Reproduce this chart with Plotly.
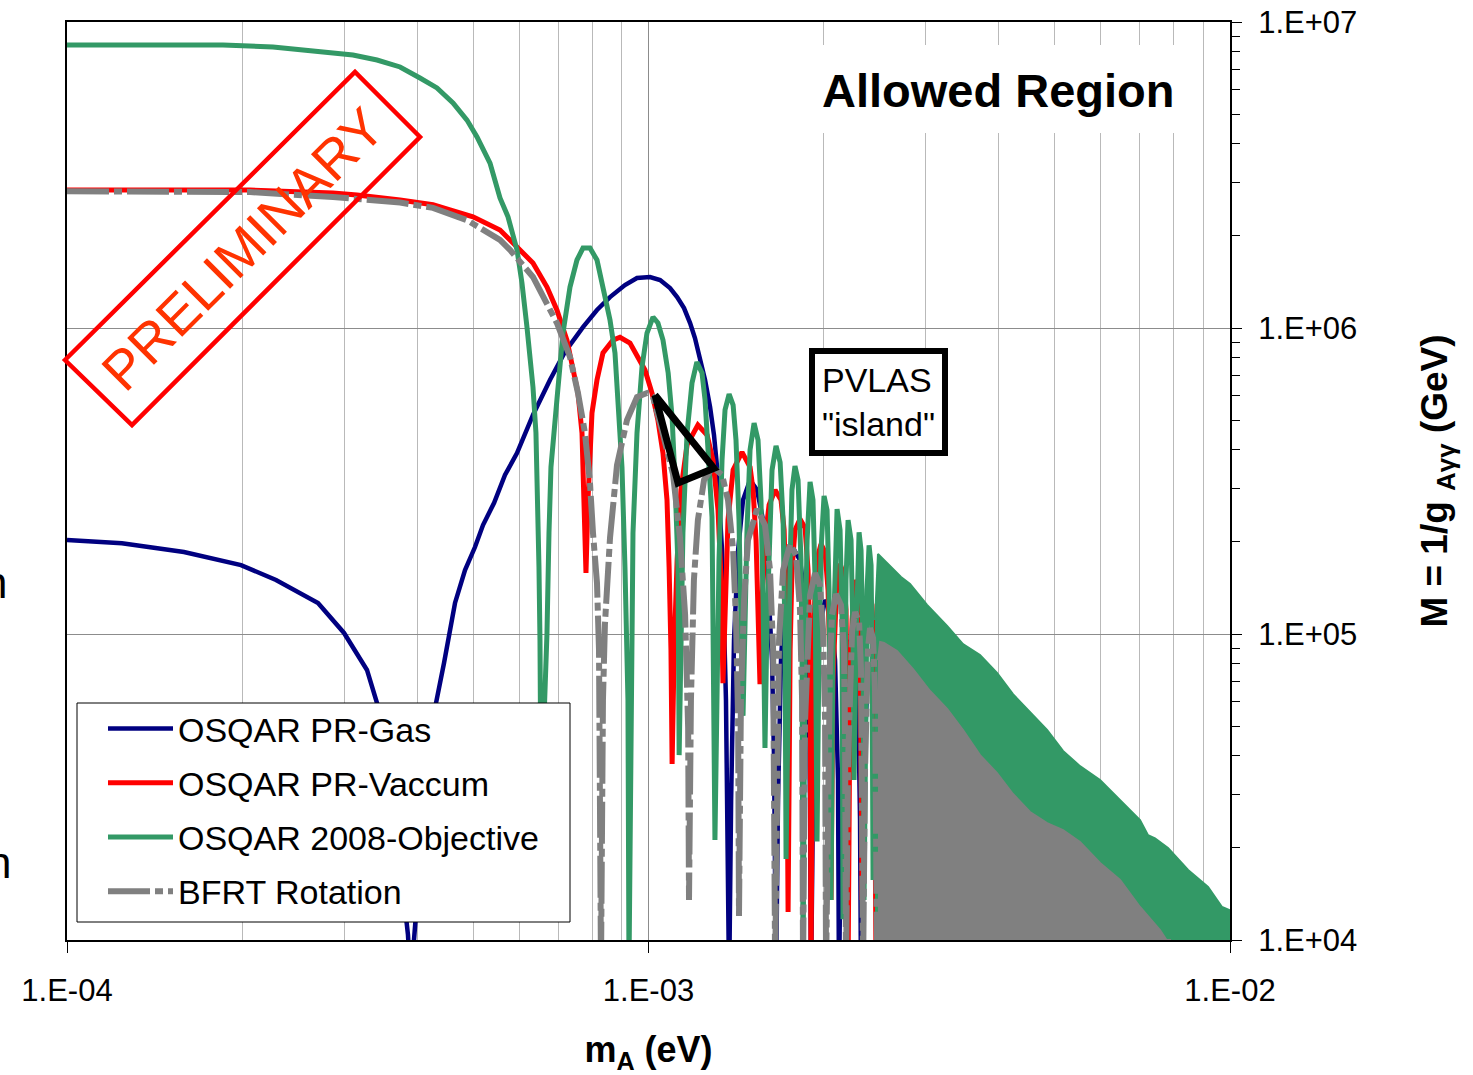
import plotly.graph_objects as go

# ---------------- values ----------------
x_tick_vals = [1e-4, 1e-3, 1e-2]
x_tick_text = ["1.E-04", "1.E-03", "1.E-02"]
y_tick_vals = [1e4, 1e5, 1e6, 1e7]
y_tick_text = ["1.E+04", "1.E+05", "1.E+06", "1.E+07"]

series_names = ["OSQAR PR-Gas", "OSQAR PR-Vaccum", "OSQAR 2008-Objective", "BFRT Rotation"]

# OSQAR PR-Gas (m_A in eV, M in GeV)
gas_mass = [
    1.00e-4, 1.243e-4, 1.589e-4, 1.992e-4, 2.288e-4, 2.702e-4, 2.995e-4, 3.280e-4, 3.413e-4, 3.523e-4,
    3.622e-4, 3.709e-4, 3.783e-4, 3.858e-4, 3.904e-4,
    3.951e-4, 4.014e-4, 4.127e-4, 4.226e-4, 4.311e-4, 4.450e-4, 4.648e-4, 4.836e-4, 5.031e-4, 5.193e-4,
    5.424e-4, 5.665e-4, 5.941e-4, 6.329e-4, 6.769e-4, 7.183e-4, 7.715e-4, 8.155e-4, 8.586e-4, 9.11e-4,
    9.555e-4, 1.006e-3, 1.047e-3, 1.089e-3, 1.120e-3, 1.151e-3, 1.179e-3, 1.202e-3, 1.226e-3, 1.251e-3,
    1.276e-3, 1.296e-3, 1.312e-3, 1.327e-3, 1.338e-3, 1.348e-3, 1.359e-3, 1.365e-3, 1.376e-3,
    1.387e-3, 1.403e-3, 1.426e-3, 1.454e-3, 1.495e-3, 1.537e-3, 1.574e-3, 1.605e-3, 1.631e-3, 1.644e-3, 1.657e-3,
    1.670e-3, 1.690e-3, 1.717e-3, 1.772e-3, 1.822e-3, 1.859e-3, 1.881e-3, 1.896e-3, 1.903e-3,
    1.918e-3, 1.941e-3, 1.965e-3, 2.012e-3, 2.060e-3, 2.093e-3, 2.118e-3, 2.126e-3,
    2.143e-3, 2.169e-3, 2.186e-3, 2.221e-3, 2.266e-3, 2.293e-3, 2.311e-3, 2.320e-3,
    2.339e-3, 2.357e-3, 2.376e-3, 2.404e-3, 2.442e-3, 2.472e-3, 2.491e-3, 2.502e-3,
]
gas_M = [
    2.028e5, 1.98e5, 1.853e5, 1.68e5, 1.501e5, 1.263e5, 1.008e5, 7.63e4, 5.95e4, 4.34e4,
    3.092e4, 2.122e4, 1.457e4, 1.04e4, 7.0e3,
    1.0e4, 1.457e4, 2.868e4, 4.504e4, 5.95e4, 8.04e4, 1.263e5, 1.618e5, 1.924e5, 2.27e5,
    2.68e5, 3.31e5, 3.90e5, 5.20e5, 6.76e5, 8.35e5, 1.007e6, 1.145e6, 1.262e6, 1.382e6,
    1.457e6, 1.468e6, 1.435e6, 1.351e6, 1.262e6, 1.162e6, 1.038e6, 9.27e5, 8.04e5, 6.76e5,
    5.52e5, 4.47e5, 3.51e5, 2.542e5, 1.881e5, 1.111e5, 6.086e4, 2.868e4, 7.0e3,
    2.868e4, 9.56e4, 1.881e5, 2.741e5, 3.186e5, 2.955e5, 2.358e5, 1.501e5, 8.22e4, 3.875e4, 7.0e3,
    2.868e4, 8.22e4, 1.392e5, 1.91e5, 1.745e5, 1.292e5, 7.07e4, 2.868e4, 7.0e3,
    2.868e4, 6.56e4, 1.031e5, 1.292e5, 1.18e5, 8.22e4, 3.334e4, 7.0e3,
    2.467e4, 5.236e4, 7.63e4, 9.56e4, 8.74e4, 6.086e4, 2.467e4, 7.0e3,
    2.288e4, 4.504e4, 6.56e4, 7.63e4, 6.96e4, 4.856e4, 2.288e4, 7.0e3,
]

# OSQAR PR-Vaccum
vac_mass = [
    1.00e-4, 1.389e-4, 2.064e-4, 2.867e-4, 3.152e-4, 3.739e-4, 4.260e-4, 4.557e-4, 4.991e-4, 5.554e-4,
    5.941e-4, 6.329e-4, 6.690e-4, 6.958e-4, 7.240e-4, 7.415e-4, 7.564e-4, 7.685e-4, 7.715e-4, 7.776e-4, 7.807e-4,
    7.869e-4, 7.995e-4, 8.155e-4, 8.350e-4, 8.688e-4, 8.932e-4, 9.293e-4, 9.593e-4, 9.862e-4, 1.014e-3,
    1.038e-3, 1.059e-3, 1.076e-3, 1.085e-3, 1.093e-3, 1.098e-3,
    1.107e-3, 1.120e-3, 1.137e-3, 1.165e-3, 1.216e-3, 1.261e-3, 1.291e-3, 1.317e-3, 1.333e-3, 1.343e-3,
    1.354e-3, 1.370e-3, 1.398e-3, 1.448e-3, 1.495e-3, 1.513e-3, 1.531e-3, 1.543e-3, 1.555e-3,
    1.568e-3, 1.586e-3, 1.612e-3, 1.651e-3, 1.690e-3, 1.711e-3, 1.724e-3, 1.738e-3,
    1.752e-3, 1.765e-3, 1.786e-3, 1.822e-3, 1.859e-3, 1.881e-3, 1.896e-3, 1.903e-3,
    1.918e-3, 1.934e-3, 1.957e-3, 1.980e-3, 2.012e-3, 2.036e-3, 2.052e-3, 2.060e-3,
    2.076e-3, 2.093e-3, 2.110e-3, 2.135e-3, 2.160e-3, 2.186e-3, 2.195e-3, 2.204e-3,
    2.221e-3, 2.239e-3, 2.266e-3, 2.293e-3, 2.311e-3, 2.329e-3,
    2.348e-3, 2.366e-3, 2.395e-3, 2.423e-3, 2.442e-3, 2.462e-3,
]
vac_M = [
    2.825e6, 2.825e6, 2.825e6, 2.76e6, 2.72e6, 2.62e6, 2.53e6, 2.43e6, 2.31e6, 2.09e6,
    1.839e6, 1.631e6, 1.361e6, 1.145e6, 9.13e5, 7.46e5, 6.13e5, 4.54e5, 3.115e5, 2.138e5, 1.582e5,
    2.741e5, 5.28e5, 6.76e5, 8.29e5, 9.13e5, 9.33e5, 8.93e5, 8.04e5, 7.29e5, 6.13e5,
    5.00e5, 3.90e5, 2.741e5, 1.655e5, 8.867e4, 3.76e4,
    8.867e4, 1.745e5, 2.955e5, 4.15e5, 4.82e5, 4.47e5, 3.70e5, 2.542e5, 1.501e5, 6.91e4,
    1.292e5, 2.358e5, 3.435e5, 3.93e5, 3.51e5, 2.955e5, 2.028e5, 1.292e5, 6.86e4,
    1.292e5, 2.028e5, 2.64e5, 2.955e5, 2.741e5, 2.187e5, 1.292e5, 1.234e4,
    8.867e4, 1.618e5, 2.187e5, 2.376e5, 2.22e5, 1.618e5, 8.867e4, 8.0e3,
    8.22e4, 1.392e5, 1.81e5, 1.967e5, 1.853e5, 1.392e5, 7.63e4, 1.351e4,
    7.07e4, 1.198e5, 1.56e5, 1.693e5, 1.594e5, 1.198e5, 6.56e4, 8.0e3,
    6.56e4, 1.111e5, 1.501e5, 1.392e5, 1.031e5, 1.351e4,
    6.086e4, 1.031e5, 1.34e5, 1.244e5, 8.867e4, 8.0e3,
]

# OSQAR 2008-Objective (resolved oscillations)
obj_mass = [
    1.00e-4, 1.389e-4, 1.854e-4, 2.261e-4, 2.546e-4, 2.867e-4, 3.103e-4, 3.413e-4, 3.739e-4, 4.046e-4,
    4.328e-4, 4.611e-4, 4.874e-4, 5.071e-4, 5.339e-4, 5.554e-4, 5.733e-4, 5.941e-4, 6.059e-4, 6.180e-4,
    6.254e-4, 6.329e-4, 6.404e-4, 6.455e-4, 6.481e-4, 6.507e-4, 6.533e-4,
    6.611e-4, 6.690e-4, 6.743e-4, 6.796e-4, 6.958e-4, 7.127e-4, 7.328e-4, 7.533e-4, 7.715e-4, 7.932e-4,
    8.155e-4, 8.350e-4, 8.586e-4, 8.757e-4, 8.862e-4, 9.003e-4, 9.11e-4, 9.219e-4, 9.256e-4,
    9.330e-4, 9.404e-4, 9.555e-4, 9.746e-4, 9.940e-4, 1.018e-3, 1.038e-3, 1.059e-3, 1.081e-3, 1.098e-3,
    1.111e-3, 1.124e-3, 1.129e-3,
    1.137e-3, 1.146e-3, 1.165e-3, 1.188e-3, 1.211e-3, 1.236e-3, 1.251e-3, 1.266e-3, 1.286e-3, 1.301e-3,
    1.312e-3, 1.322e-3, 1.338e-3, 1.354e-3, 1.376e-3, 1.398e-3, 1.414e-3, 1.431e-3, 1.442e-3, 1.454e-3,
    1.466e-3, 1.477e-3, 1.495e-3, 1.519e-3, 1.543e-3, 1.561e-3, 1.574e-3, 1.586e-3,
    1.599e-3, 1.612e-3, 1.631e-3, 1.657e-3, 1.684e-3, 1.704e-3, 1.717e-3, 1.724e-3,
    1.738e-3, 1.752e-3, 1.765e-3, 1.786e-3, 1.808e-3, 1.829e-3, 1.837e-3, 1.844e-3,
    1.859e-3, 1.874e-3, 1.896e-3, 1.918e-3, 1.934e-3, 1.949e-3,
    1.965e-3, 1.980e-3, 2.004e-3, 2.028e-3, 2.044e-3, 2.060e-3,
    2.076e-3, 2.093e-3, 2.110e-3, 2.135e-3, 2.152e-3, 2.160e-3,
    2.178e-3, 2.186e-3, 2.204e-3, 2.230e-3, 2.248e-3, 2.257e-3,
    2.275e-3, 2.284e-3, 2.302e-3, 2.320e-3, 2.339e-3, 2.348e-3,
    2.366e-3, 2.376e-3, 2.395e-3, 2.414e-3, 2.423e-3, 2.433e-3,
]
obj_M = [
    8.41e6, 8.41e6, 8.41e6, 8.29e6, 8.10e6, 7.92e6, 7.80e6, 7.51e6, 7.13e6, 6.56e6,
    6.09e6, 5.44e6, 4.78e6, 4.21e6, 3.46e6, 2.66e6, 2.31e6, 1.80e6, 1.403e6, 1.007e6,
    8.29e5, 6.41e5, 4.54e5, 2.741e5, 1.655e5, 9.56e4, 2.868e4,
    5.236e4, 1.008e5, 2.138e5, 3.51e5, 5.817e5, 9.63e5, 1.361e6, 1.668e6, 1.825e6, 1.825e6,
    1.668e6, 1.361e6, 1.062e6, 8.29e5, 5.817e5, 3.51e5, 1.655e5, 6.086e4, 8.0e3,
    2.868e4, 2.138e5, 4.54e5, 7.46e5, 9.63e5, 1.086e6, 1.038e6, 9.13e5, 7.13e5, 5.11e5,
    3.115e5, 1.655e5, 4.02e4,
    8.867e4, 2.138e5, 4.54e5, 6.61e5, 7.74e5, 7.13e5, 5.817e5, 3.993e5, 2.41e5, 2.122e4,
    6.086e4, 1.745e5, 3.70e5, 5.40e5, 6.08e5, 5.60e5, 4.305e5, 2.358e5, 1.111e5, 5.40e4,
    1.111e5, 2.187e5, 3.993e5, 4.89e5, 4.305e5, 2.741e5, 1.292e5, 4.24e4,
    1.111e5, 2.028e5, 3.435e5, 4.12e5, 3.64e5, 2.358e5, 9.56e4, 1.84e4,
    7.07e4, 1.745e5, 2.955e5, 3.54e5, 3.186e5, 1.745e5, 8.22e4, 8.0e3,
    9.56e4, 2.028e5, 3.14e5, 2.741e5, 1.501e5, 2.10e4,
    9.56e4, 1.881e5, 2.825e5, 2.542e5, 1.392e5, 1.351e4,
    8.867e4, 1.745e5, 2.56e5, 2.187e5, 1.111e5, 1.17e4,
    8.22e4, 1.501e5, 2.358e5, 2.028e5, 9.56e4, 3.334e4,
    9.56e4, 1.501e5, 2.15e5, 1.881e5, 8.867e4, 1.351e4,
    9.56e4, 1.392e5, 1.95e5, 1.68e5, 8.867e4, 1.571e4,
]
# OSQAR 2008-Objective: upper edge of the unresolved (dense) oscillation band
obj_band_mass = [
    2.452e-3, 2.481e-3, 2.561e-3, 2.643e-3, 2.718e-3, 2.817e-3, 3.013e-3, 3.262e-3, 3.474e-3, 3.716e-3,
    3.975e-3, 4.234e-3, 4.530e-3, 4.846e-3, 5.162e-3, 5.521e-3, 5.977e-3, 6.470e-3, 7.002e-3, 7.228e-3,
    7.431e-3, 7.823e-3, 8.471e-3, 9.167e-3, 9.688e-3, 1.0e-2,
]
obj_band_M = [
    1.111e5, 1.825e5, 1.72e5, 1.618e5, 1.535e5, 1.456e5, 1.244e5, 1.062e5, 9.27e4, 8.54e4,
    7.46e4, 6.36e4, 5.56e4, 4.856e4, 4.15e4, 3.70e4, 3.334e4, 2.868e4, 2.467e4, 2.20e4,
    2.15e4, 2.0e4, 1.694e4, 1.49e4, 1.282e4, 1.25e4,
]

# BFRT Rotation
bfrt_mass = [
    1.00e-4, 1.389e-4, 2.064e-4, 2.867e-4, 3.739e-4, 4.260e-4, 4.874e-4, 5.554e-4, 5.778e-4, 6.329e-4,
    6.958e-4, 7.328e-4, 7.564e-4, 7.776e-4, 7.932e-4, 8.027e-4, 8.155e-4, 8.220e-4, 8.285e-4,
    8.350e-4, 8.416e-4, 8.586e-4, 8.827e-4, 9.183e-4, 9.555e-4, 9.940e-4, 1.018e-3, 1.059e-3, 1.102e-3,
    1.133e-3, 1.156e-3, 1.170e-3, 1.174e-3,
    1.183e-3, 1.197e-3, 1.216e-3, 1.246e-3, 1.291e-3, 1.338e-3, 1.370e-3, 1.398e-3, 1.414e-3, 1.426e-3, 1.431e-3,
    1.442e-3, 1.460e-3, 1.483e-3, 1.537e-3, 1.586e-3, 1.618e-3, 1.638e-3, 1.651e-3,
    1.664e-3, 1.677e-3, 1.704e-3, 1.752e-3, 1.794e-3, 1.822e-3, 1.837e-3, 1.844e-3,
    1.859e-3, 1.874e-3, 1.896e-3, 1.934e-3, 1.972e-3, 1.996e-3, 2.012e-3, 2.020e-3,
    2.036e-3, 2.052e-3, 2.068e-3, 2.101e-3, 2.143e-3, 2.169e-3, 2.178e-3, 2.186e-3,
    2.204e-3, 2.221e-3, 2.239e-3, 2.266e-3, 2.302e-3, 2.320e-3, 2.329e-3, 2.339e-3,
    2.357e-3, 2.366e-3, 2.385e-3, 2.404e-3, 2.433e-3, 2.452e-3, 2.462e-3, 2.472e-3,
]
bfrt_M = [
    2.80e6, 2.80e6, 2.78e6, 2.68e6, 2.57e6, 2.47e6, 2.25e6, 1.94e6, 1.80e6, 1.468e6,
    1.038e6, 8.04e5, 6.13e5, 4.54e5, 3.115e5, 2.138e5, 1.468e5, 8.867e4, 8.0e3,
    6.086e4, 1.078e5, 2.06e5, 3.56e5, 5.00e5, 5.95e5, 6.13e5, 5.95e5, 4.50e5, 3.33e5,
    2.06e5, 1.154e5, 4.93e4, 1.351e4,
    6.086e4, 1.501e5, 2.358e5, 3.186e5, 3.51e5, 3.31e5, 2.741e5, 1.881e5, 1.111e5, 5.236e4, 1.198e4,
    6.086e4, 1.292e5, 2.028e5, 2.56e5, 2.27e5, 1.618e5, 8.867e4, 8.0e3,
    5.236e4, 9.56e4, 1.618e5, 1.967e5, 1.81e5, 1.198e5, 6.086e4, 8.0e3,
    5.236e4, 8.867e4, 1.34e5, 1.582e5, 1.446e5, 1.031e5, 5.236e4, 8.0e3,
    4.504e4, 8.22e4, 1.154e5, 1.35e5, 1.244e5, 8.867e4, 4.504e4, 8.0e3,
    3.875e4, 7.07e4, 1.016e5, 1.18e5, 1.094e5, 7.63e4, 3.875e4, 8.0e3,
    3.594e4, 6.086e4, 9.0e4, 1.046e5, 9.71e4, 6.56e4, 3.594e4, 8.0e3,
]
# BFRT Rotation: upper edge of the unresolved (dense) oscillation band
bfrt_band_mass = [
    2.481e-3, 2.502e-3, 2.541e-3, 2.675e-3, 2.850e-3, 3.049e-3, 3.262e-3, 3.474e-3, 3.716e-3, 3.975e-3,
    4.234e-3, 4.530e-3, 4.846e-3, 5.162e-3, 5.521e-3, 5.977e-3, 6.470e-3, 7.002e-3, 7.579e-3, 7.885e-3,
]
bfrt_band_M = [
    8.22e4, 9.42e4, 9.35e4, 8.80e4, 7.68e4, 6.51e4, 5.69e4, 4.856e4, 4.02e4, 3.51e4,
    3.0e4, 2.62e4, 2.41e4, 2.288e4, 2.09e4, 1.785e4, 1.571e4, 1.282e4, 1.078e4, 9.6e3,
]
band_floor_M = 1.0e4

# PVLAS "island"
pvlas_mass = [1.026e-3, 1.124e-3, 1.296e-3, 1.026e-3]
pvlas_M = [6.04e5, 3.115e5, 3.48e5, 6.04e5]

# ---------------- styling ----------------
C_GAS, C_VAC, C_OBJ, C_BFRT = "#000080", "#ff0000", "#339966", "#808080"
FONT = "Liberation Sans, Arial, sans-serif"
NARROW = "Liberation Sans Narrow, Arial Narrow, Liberation Sans, Arial, sans-serif"

# plot area in page pixels (used only to place paper-referenced decorations)
PX0, PX1, PY0, PY1 = 67, 1230, 22, 940
def px(xp):
    return (xp - PX0) / (PX1 - PX0)
def py(yp):
    return (PY1 - yp) / (PY1 - PY0)

fig = go.Figure()

def line_trace(x, y, name, color, width, dash="solid"):
    return go.Scatter(x=x, y=y, mode="lines", name=name, legendgroup=name,
                      line=dict(color=color, width=width, dash=dash),
                      hoverinfo="skip")

def band_trace(x, y, color):
    return go.Scatter(x=list(x) + [x[-1], x[0]], y=list(y) + [band_floor_M, band_floor_M],
                      mode="lines", fill="toself", fillcolor=color,
                      line=dict(color=color, width=2), showlegend=False, hoverinfo="skip")

fig.add_trace(line_trace(gas_mass, gas_M, series_names[0], C_GAS, 4.5))
fig.add_trace(line_trace(vac_mass, vac_M, series_names[1], C_VAC, 5))
fig.add_trace(line_trace(obj_mass, obj_M, series_names[2], C_OBJ, 5))
fig.add_trace(band_trace(obj_band_mass, obj_band_M, C_OBJ))
fig.add_trace(line_trace(bfrt_mass, bfrt_M, series_names[3], C_BFRT, 6, dash="42px,5px,8px,5px"))
fig.add_trace(band_trace(bfrt_band_mass, bfrt_band_M, C_BFRT))
fig.add_trace(go.Scatter(x=pvlas_mass, y=pvlas_M, mode="lines", showlegend=False,
                         line=dict(color="black", width=7), hoverinfo="skip"))

minor_x = [k * 10.0 ** e for e in (-4, -3) for k in range(2, 10)]
minor_y = [k * 10.0 ** e for e in (4, 5, 6) for k in range(2, 10)]

fig.update_xaxes(
    type="log", range=[-4, -2], tickmode="array", tickvals=x_tick_vals, ticktext=x_tick_text,
    ticks="outside", ticklen=11, tickwidth=1, tickcolor="black",
    showline=True, linecolor="black", linewidth=2, mirror=True,
    showgrid=True, gridcolor="#8c8c8c", gridwidth=1, zeroline=False,
    minor=dict(tickmode="array", tickvals=minor_x, showgrid=True, gridcolor="#b9b9b9", gridwidth=1, ticks=""),
    tickfont=dict(family=NARROW, size=31, color="black"), ticklabelstandoff=11,
    title=dict(text="<b>m<sub>A</sub> (eV)</b>", font=dict(family=NARROW, size=36, color="black"), standoff=34),
    automargin=False,
)
fig.update_yaxes(
    type="log", range=[4, 7], side="right", tickmode="array", tickvals=y_tick_vals, ticktext=y_tick_text,
    ticks="outside", ticklen=10, tickwidth=1, tickcolor="black",
    showline=True, linecolor="black", linewidth=2, mirror=True,
    showgrid=True, gridcolor="#8c8c8c", gridwidth=1, zeroline=False,
    minor=dict(tickmode="array", tickvals=minor_y, ticks="outside", ticklen=8, tickcolor="black", showgrid=False),
    tickfont=dict(family=FONT, size=31, color="black"), ticklabelstandoff=10,
    title=dict(text="<b>M = 1/g <sub>A\u03b3\u03b3</sub> (GeV)</b>", font=dict(family=NARROW, size=37, color="black"), standoff=65),
    automargin=False,
)

shapes = [
    # white patch behind "Allowed Region"
    dict(type="rect", xref="paper", yref="paper", x0=px(815), x1=px(1186), y0=py(133), y1=py(45),
         fillcolor="white", line=dict(width=0), layer="above"),
    # legend frame
    dict(type="rect", xref="paper", yref="paper", x0=px(77), x1=px(570), y0=py(922), y1=py(703),
         fillcolor="white", line=dict(color="black", width=1), layer="above"),
    # PRELIMINARY stamp frame (rotated rectangle)
    dict(type="path", xref="paper", yref="paper",
         path=f"M {px(65)} {py(360)} L {px(355)} {py(72)} L {px(420)} {py(137)} L {px(132)} {py(425)} Z",
         line=dict(color="#ff0000", width=4.5), fillcolor="rgba(0,0,0,0)", layer="above"),
]

annotations = [
    dict(text="<b>Allowed Region</b>", xref="paper", yref="paper", x=px(998), y=py(91),
         xanchor="center", yanchor="middle", showarrow=False,
         font=dict(family=FONT, size=47, color="black")),
    dict(text="PVLAS<br>\"island\"", xref="paper", yref="paper", x=px(878), y=py(402),
         xanchor="center", yanchor="middle", showarrow=False, align="left",
         font=dict(family=FONT, size=34, color="black"),
         bgcolor="white", bordercolor="black", borderwidth=6, borderpad=7),
    dict(text="PRELIMINARY", xref="paper", yref="paper", x=px(243), y=py(249),
         xanchor="center", yanchor="middle", showarrow=False, textangle=-45,
         font=dict(family=FONT, size=55, color="#ff3300")),
    # fragments of cropped text at the left page edge
    dict(text="n", xref="paper", yref="paper", x=px(9), y=py(582), xanchor="right", yanchor="middle",
         showarrow=False, font=dict(family=FONT, size=44, color="black")),
    dict(text="n", xref="paper", yref="paper", x=px(13), y=py(862), xanchor="right", yanchor="middle",
         showarrow=False, font=dict(family=FONT, size=44, color="black")),
]

fig.update_layout(
    width=1473, height=1075, autosize=False,
    margin=dict(l=PX0, r=1473 - PX1, t=PY0, b=1075 - PY1, pad=0),
    paper_bgcolor="white", plot_bgcolor="white",
    font=dict(family=FONT, color="black"),
    showlegend=True,
    legend=dict(x=px(103), y=py(700), xanchor="left", yanchor="top", bgcolor="rgba(0,0,0,0)",
                borderwidth=0, traceorder="grouped", tracegroupgap=7,
                itemwidth=65, font=dict(family=FONT, size=34, color="black")),
    shapes=shapes, annotations=annotations,
)

fig.write_html("out.html", config={"displayModeBar": False},
               post_script="document.body.style.margin='0';document.body.style.overflow='hidden';")
